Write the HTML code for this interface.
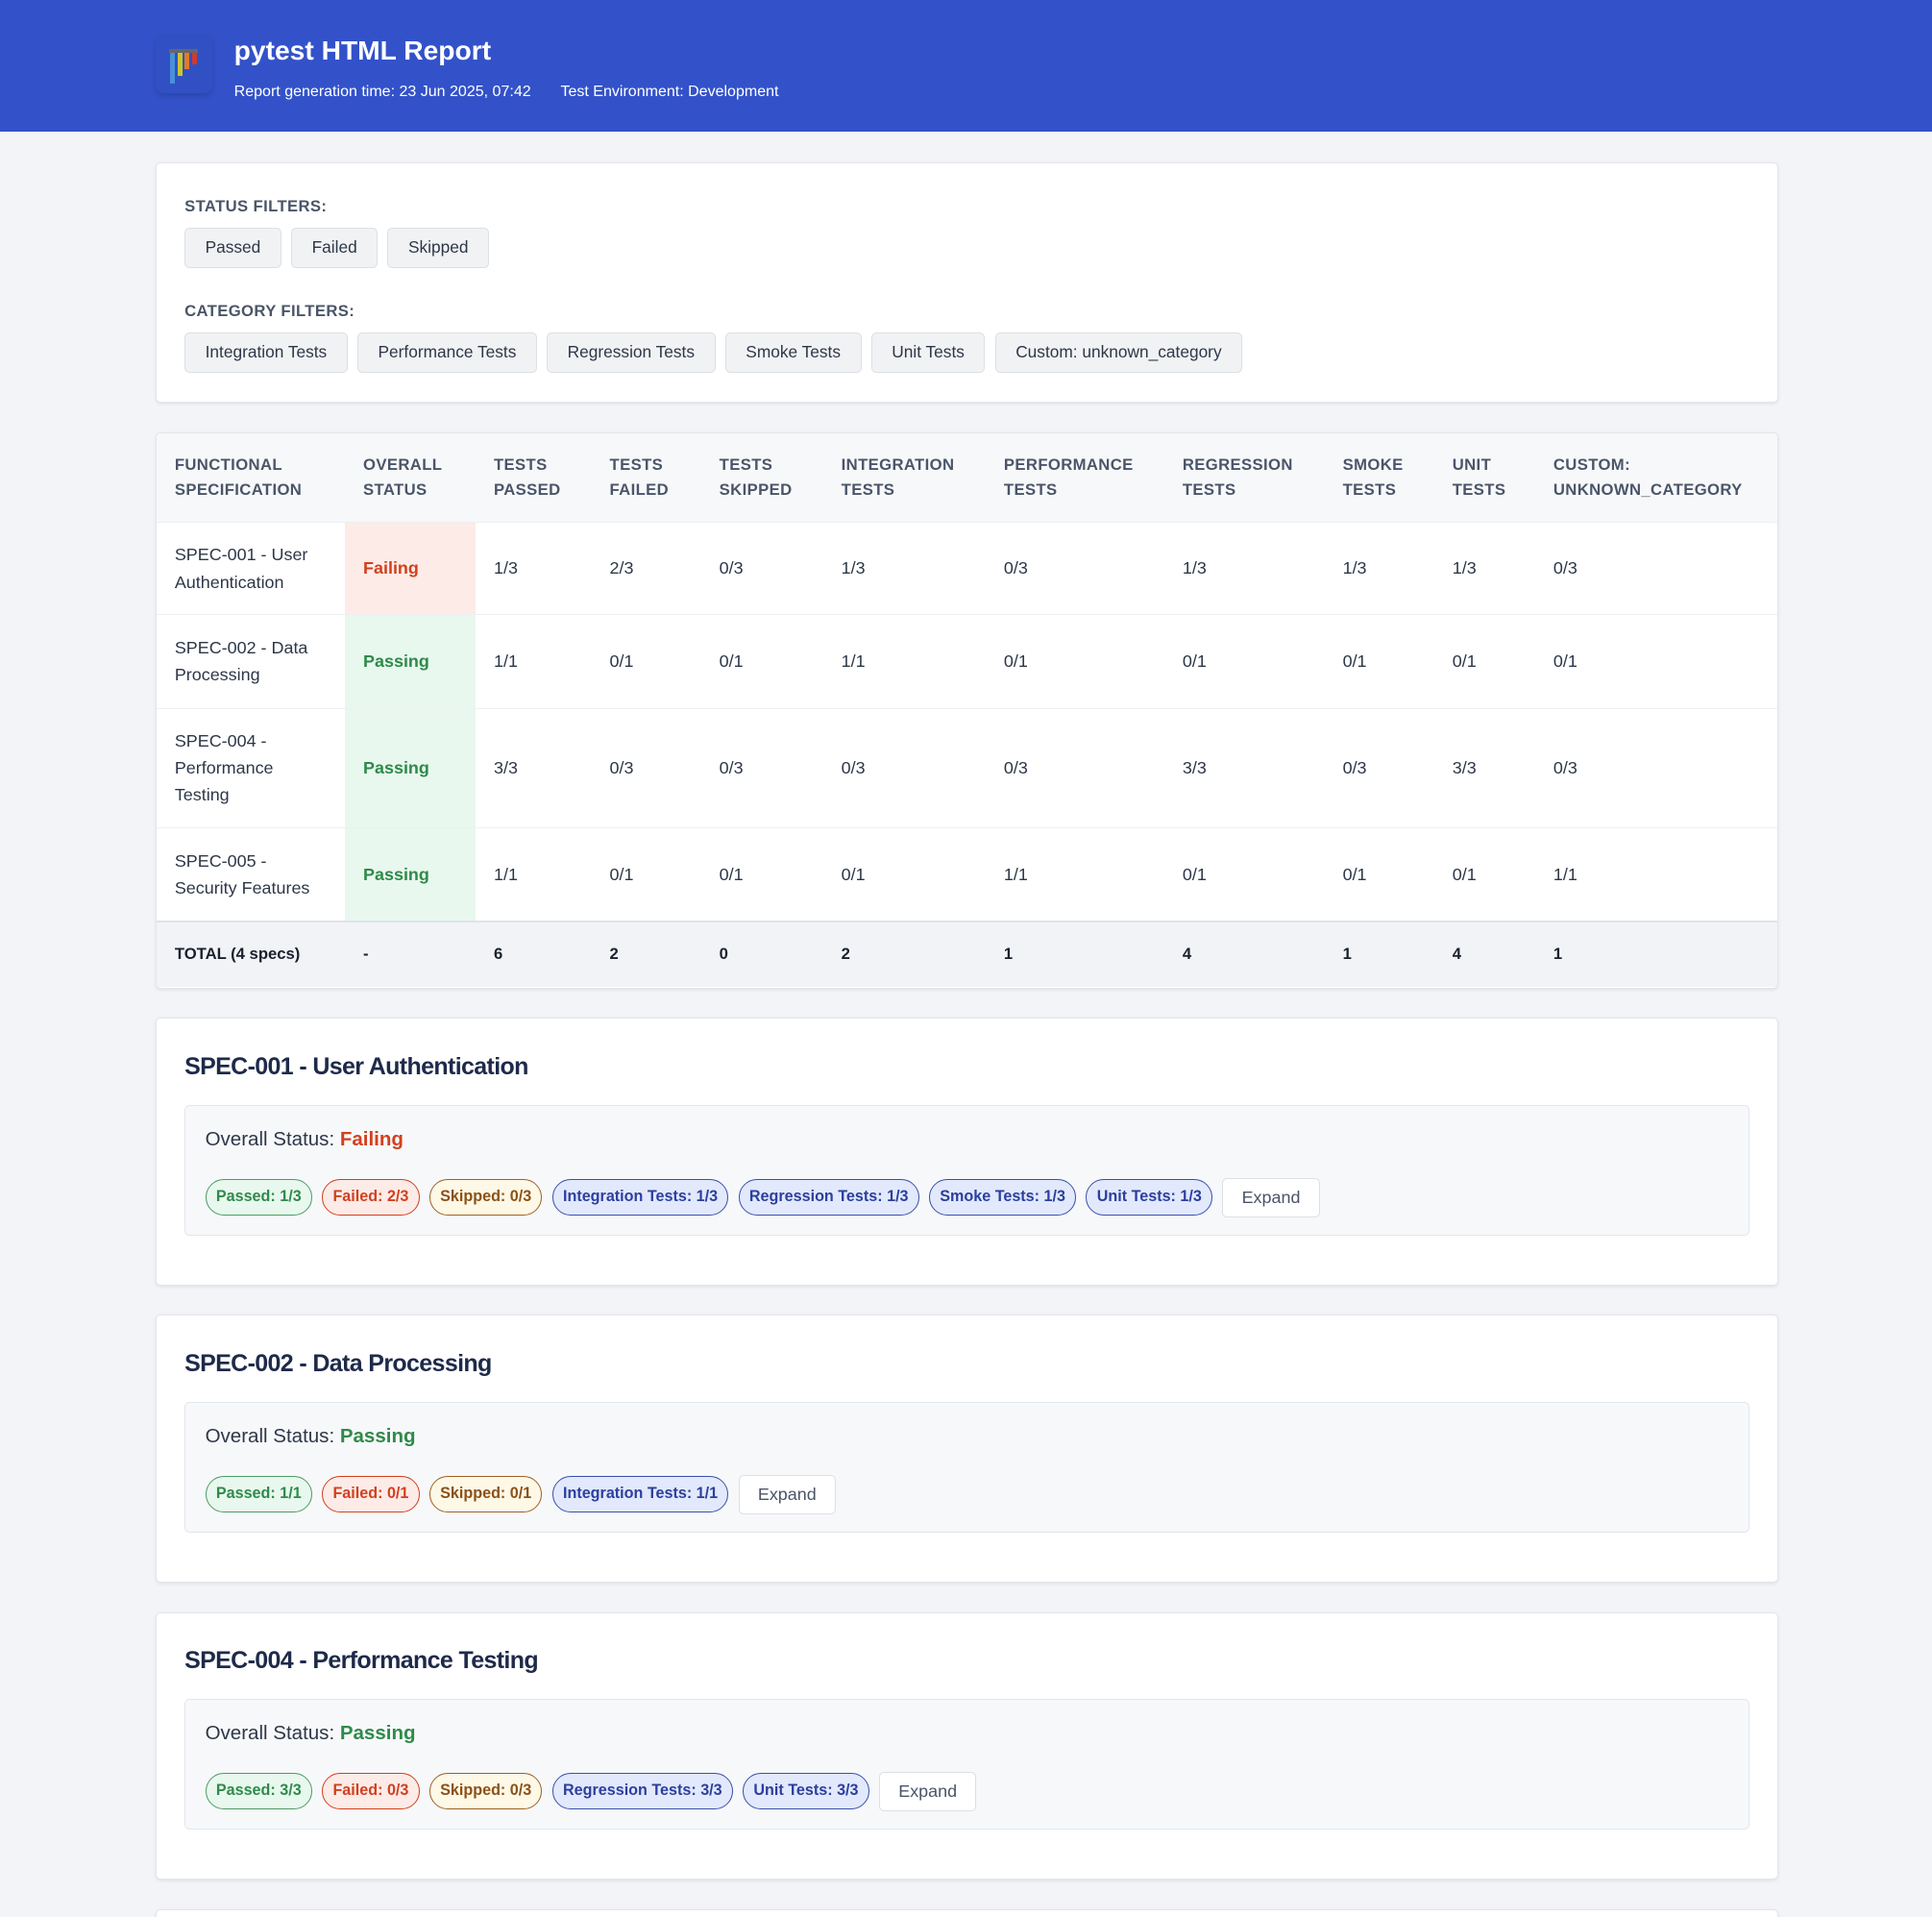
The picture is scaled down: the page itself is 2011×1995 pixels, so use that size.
<!DOCTYPE html>
<html><head><meta charset="utf-8"><style>
*{box-sizing:border-box;margin:0;padding:0}
html,body{width:2011px;height:1995px;overflow:hidden;background:#f3f4f7}
#z{zoom:1.28253;width:1568px;font-family:"Liberation Sans",sans-serif;color:#2d3748;position:relative}
.hdr{background:#3352c9;height:107px;position:relative;color:#fff}
.logo{position:absolute;left:126px;top:28px;width:46px;height:48px;border-radius:6px;background:#3150c4;box-shadow:0 2px 4px rgba(0,0,0,.15)}
.logo i{position:absolute;top:12px;width:4px}
.hdr h1{position:absolute;left:190px;top:28px;font-size:22px;font-weight:bold}
.hdr .m{position:absolute;left:190px;top:67px;font-size:12.5px}
.card{position:absolute;left:126px;width:1317px;background:#fff;border:1px solid #e2e6ec;border-radius:4px;box-shadow:0 1px 3px rgba(0,0,0,.08)}
.lbl{position:absolute;left:23px;font-size:13px;font-weight:bold;color:#4a5568;letter-spacing:.3px}
.btns{position:absolute;left:23px;display:flex;gap:8px}
.btn{height:33px;padding:0 16px;line-height:31px;font-size:13.5px;background:#f1f2f4;border:1px solid #dcdfe4;border-radius:4px;color:#2d3748}
table{border-collapse:collapse;table-layout:fixed;width:1316px}
th{height:72px;text-align:left;font-size:13px;font-weight:bold;color:#4a5568;text-transform:uppercase;letter-spacing:.3px;line-height:20px;padding-left:15px;background:#f7f8fa}
td{font-size:14px;line-height:22px;padding-left:15px;padding-right:14px;border-top:1px solid #edf0f3}
.f{background:#fcebe7;color:#d2401e;font-weight:bold}
.p{background:#e8f8ee;color:#2f8a4a;font-weight:bold}
tr.t td{background:#f1f3f6;font-size:13px;font-weight:bold;height:53px;border-top:2px solid #dfe3e8;color:#1a202c}
.sc h2{position:absolute;left:23px;top:28px;font-size:19.5px;color:#1e2a4a;letter-spacing:-.5px}
.box{position:absolute;left:23px;top:70px;width:1270px;height:106px;background:#f7f8fa;border:1px solid #e2e6ec;border-radius:4px}
.os{position:absolute;left:16px;top:18px;font-size:16px;color:#2d3748}
.bd{position:absolute;left:16px;top:58px;display:flex;gap:8px;align-items:center}
.b{height:30px;line-height:28px;padding:0 8px;border-radius:15px;font-size:12.6px;font-weight:bold;border:1px solid}
.g{background:#e8f8ee;color:#2f8a4a;border-color:#4d9a66}
.r{background:#fcebe7;color:#d2401e;border-color:#d2401e}
.y{background:#fef8e6;color:#8a5218;border-color:#9a6226}
.u{background:#e2e9fc;color:#2c3f9e;border-color:#3a4fa8}
.ex{height:32px;line-height:30px;padding:0 15px;border:1px solid #dcdfe4;background:#fff;border-radius:4px;font-size:14px;color:#4a5568}
</style></head><body><div id="z">
<div class="hdr"><div class="logo"><i style="left:12px;height:28px;background:#4a90d9"></i><i style="left:18px;height:22px;background:#c8c82a"></i><i style="left:24px;height:16px;background:#e07a2a"></i><i style="left:30px;height:12px;background:#d03a2a"></i><i style="left:11px;top:12px;width:24px;height:3px;background:#666"></i></div>
<h1>pytest HTML Report</h1><div class="m">Report generation time: 23 Jun 2025, 07:42 &nbsp;&nbsp;&nbsp;&nbsp;&nbsp; Test Environment: Development</div></div>

<div class="card" style="top:132px;height:195px">
<div class="lbl" style="top:27px">STATUS FILTERS:</div>
<div class="btns" style="top:52px"><span class="btn">Passed</span><span class="btn">Failed</span><span class="btn">Skipped</span></div>
<div class="lbl" style="top:112px">CATEGORY FILTERS:</div>
<div class="btns" style="top:137px"><span class="btn">Integration Tests</span><span class="btn">Performance Tests</span><span class="btn">Regression Tests</span><span class="btn">Smoke Tests</span><span class="btn">Unit Tests</span><span class="btn">Custom: unknown_category</span></div>
</div>

<div class="card" style="top:351px;height:451px;overflow:hidden">
<table><colgroup><col style="width:153px"><col style="width:106px"><col style="width:94px"><col style="width:89px"><col style="width:99px"><col style="width:132px"><col style="width:145px"><col style="width:130px"><col style="width:89px"><col style="width:82px"><col style="width:197px"></colgroup>
<tr><th>Functional Specification</th><th>Overall Status</th><th>Tests Passed</th><th>Tests Failed</th><th>Tests Skipped</th><th>Integration Tests</th><th>Performance Tests</th><th>Regression Tests</th><th>Smoke Tests</th><th>Unit Tests</th><th>Custom: unknown_category</th></tr>
<tr style="height:75px"><td>SPEC-001 - User Authentication</td><td class="f">Failing</td><td>1/3</td><td>2/3</td><td>0/3</td><td>1/3</td><td>0/3</td><td>1/3</td><td>1/3</td><td>1/3</td><td>0/3</td></tr>
<tr style="height:76px"><td>SPEC-002 - Data Processing</td><td class="p">Passing</td><td>1/1</td><td>0/1</td><td>0/1</td><td>1/1</td><td>0/1</td><td>0/1</td><td>0/1</td><td>0/1</td><td>0/1</td></tr>
<tr style="height:97px"><td>SPEC-004 -<br>Performance<br>Testing</td><td class="p">Passing</td><td>3/3</td><td>0/3</td><td>0/3</td><td>0/3</td><td>0/3</td><td>3/3</td><td>0/3</td><td>3/3</td><td>0/3</td></tr>
<tr style="height:76px"><td>SPEC-005 -<br>Security Features</td><td class="p">Passing</td><td>1/1</td><td>0/1</td><td>0/1</td><td>0/1</td><td>1/1</td><td>0/1</td><td>0/1</td><td>0/1</td><td>1/1</td></tr>
<tr class="t"><td>TOTAL (4 specs)</td><td>-</td><td>6</td><td>2</td><td>0</td><td>2</td><td>1</td><td>4</td><td>1</td><td>4</td><td>1</td></tr>
</table></div>

<div class="card sc" style="top:826px;height:217px"><h2>SPEC-001 - User Authentication</h2><div class="box"><div class="os">Overall Status: <b style="color:#d2401e">Failing</b></div><div class="bd"><span class="b g">Passed: 1/3</span><span class="b r">Failed: 2/3</span><span class="b y">Skipped: 0/3</span><span class="b u">Integration Tests: 1/3</span><span class="b u">Regression Tests: 1/3</span><span class="b u">Smoke Tests: 1/3</span><span class="b u">Unit Tests: 1/3</span><span class="ex">Expand</span></div></div></div>

<div class="card sc" style="top:1067px;height:217px"><h2>SPEC-002 - Data Processing</h2><div class="box"><div class="os">Overall Status: <b style="color:#2f8a4a">Passing</b></div><div class="bd"><span class="b g">Passed: 1/1</span><span class="b r">Failed: 0/1</span><span class="b y">Skipped: 0/1</span><span class="b u">Integration Tests: 1/1</span><span class="ex">Expand</span></div></div></div>

<div class="card sc" style="top:1308px;height:217px"><h2>SPEC-004 - Performance Testing</h2><div class="box"><div class="os">Overall Status: <b style="color:#2f8a4a">Passing</b></div><div class="bd"><span class="b g">Passed: 3/3</span><span class="b r">Failed: 0/3</span><span class="b y">Skipped: 0/3</span><span class="b u">Regression Tests: 3/3</span><span class="b u">Unit Tests: 3/3</span><span class="ex">Expand</span></div></div></div>

<div class="card" style="top:1549px;height:100px"></div>
</div></body></html>
